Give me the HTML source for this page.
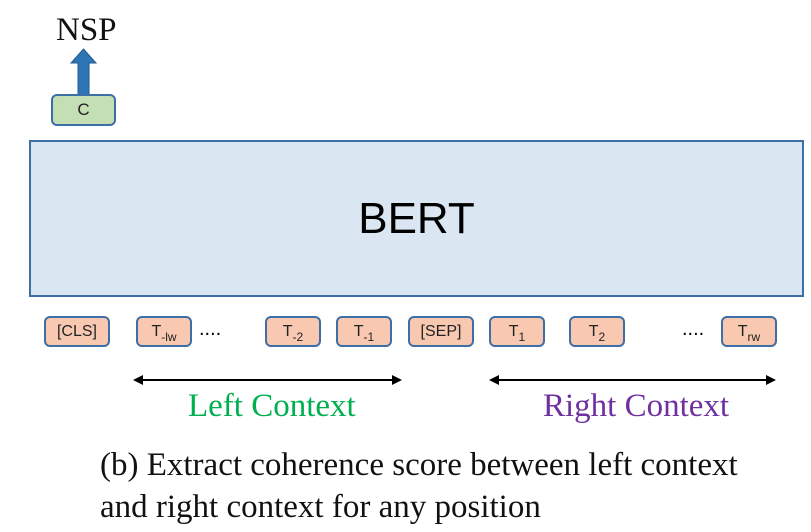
<!DOCTYPE html>
<html><head><meta charset="utf-8"><style>
body{margin:0;width:811px;height:532px;background:#fff;position:relative;overflow:hidden;font-family:"Liberation Sans",sans-serif}
.a{position:absolute}
.tok{position:absolute;top:316px;height:31px;border:2px solid #3d6fa6;border-radius:6px;background:#f8c8b0;box-sizing:border-box;font-size:16px;color:#222;display:flex;align-items:center;justify-content:center}
.tok sub{font-size:12px;vertical-align:-5px;line-height:0}
.serif{font-family:"Liberation Serif",serif}
</style></head><body>
<div class="a serif" style="left:56px;top:12px;font-size:33px;color:#111">NSP</div>
<svg class="a" style="left:0;top:0" width="811" height="532">
<polygon points="78,95 78,63 71,63 83.5,49 96,63 89,63 89,95" fill="#2e75b6" stroke="#1f5a8f" stroke-width="1"/>
<g>
<line x1="140" y1="380" x2="395" y2="380" stroke="#000" stroke-width="2"/>
<polygon points="133,380 143,375 143,385" fill="#000"/><polygon points="402,380 392,375 392,385" fill="#000"/></g>
<g>
<line x1="496" y1="380" x2="769" y2="380" stroke="#000" stroke-width="2"/>
<polygon points="489,380 499,375 499,385" fill="#000"/><polygon points="776,380 766,375 766,385" fill="#000"/></g>
</svg>
<div class="a" style="left:51px;top:94px;width:65px;height:32px;border:2px solid #3d6fa6;border-radius:6px;background:#c5dfb4;box-sizing:border-box;display:flex;align-items:center;justify-content:center;font-size:17px;color:#222">C</div>
<div class="a" style="left:29px;top:140px;width:775px;height:157px;border:2px solid #3d6fa6;background:#dae6f2;box-sizing:border-box;display:flex;align-items:center;justify-content:center;font-size:44px;color:#000">BERT</div>
<div class="tok" style="left:44px;width:66px"><span>[CLS]</span></div>
<div class="tok" style="left:136px;width:56px"><span>T<sub>-lw</sub></span></div>
<div class="a" style="left:199px;top:318px;font-size:20px">....</div>
<div class="tok" style="left:265px;width:56px"><span>T<sub>-2</sub></span></div>
<div class="tok" style="left:336px;width:56px"><span>T<sub>-1</sub></span></div>
<div class="tok" style="left:408px;width:66px"><span>[SEP]</span></div>
<div class="tok" style="left:489px;width:56px"><span>T<sub>1</sub></span></div>
<div class="tok" style="left:569px;width:56px"><span>T<sub>2</sub></span></div>
<div class="a" style="left:682px;top:318px;font-size:20px">....</div>
<div class="tok" style="left:721px;width:56px"><span>T<sub>rw</sub></span></div>
<div class="a serif" style="left:188px;top:388px;font-size:33px;color:#00b050">Left Context</div>
<div class="a serif" style="left:543px;top:388px;font-size:33px;color:#7030a0">Right Context</div>
<div class="a serif" style="left:100px;top:444px;font-size:33px;line-height:42px;color:#111;white-space:nowrap">(b) Extract coherence score between left context<br>and right context for any position</div>
</body></html>
